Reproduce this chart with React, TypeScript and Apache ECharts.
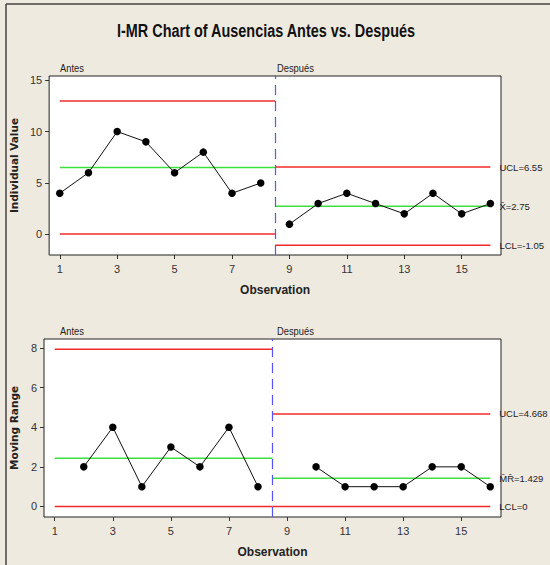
import React, { useEffect, useRef } from "react";
import * as echarts from "echarts";

// ---- Data ----
const antesObs = [1, 2, 3, 4, 5, 6, 7, 8];
const despuesObs = [9, 10, 11, 12, 13, 14, 15, 16];
const antesValues = [4, 6, 10, 9, 6, 8, 4, 5];
const despuesValues = [1, 3, 4, 3, 2, 4, 2, 3];

const antesMRObs = [2, 3, 4, 5, 6, 7, 8];
const despuesMRObs = [10, 11, 12, 13, 14, 15, 16];
const antesMR = [2, 4, 1, 3, 2, 4, 1];
const despuesMR = [2, 1, 1, 1, 2, 2, 1];

// control limits [UCL, CL, LCL]
const antesILimits = [12.96, 6.5, 0.04];
const despuesILimits = [6.55, 2.75, -1.05];
const antesMRLimits = [7.934, 2.429, 0];
const despuesMRLimits = [4.668, 1.429, 0];

const despuesILabels = ["UCL=6.55", "X\u0304=2.75", "LCL=-1.05"];
const despuesMRLabels = ["UCL=4.668", "M\u0304R\u0304=1.429", "LCL=0"];

const xTicks = [1, 3, 5, 7, 9, 11, 13, 15];
const yTicksI = [0, 5, 10, 15];
const yTicksMR = [0, 2, 4, 6, 8];

const stageBoundary = 8.5;
const firstObs = 1;
const lastObs = 16;

const SANS = '"Liberation Sans", Arial, sans-serif';

const RED = "#f22a2a";
const GREEN = "#3ce03c";
const BLUE = "#5555ff";

export default function App() {
  const ref = useRef<HTMLDivElement>(null);

  useEffect(() => {
    if (!ref.current) return;
    const chart = echarts.init(ref.current, null, { renderer: "svg" });

    const limitColors = [RED, GREEN, RED];

    const limitSeries = (
      idx: number,
      antes: number[],
      despues: number[],
      labels: string[]
    ) => {
      const out: any[] = [];
      antes.forEach((v, i) => {
        out.push({
          type: "line",
          xAxisIndex: idx,
          yAxisIndex: idx,
          data: [
            [firstObs, v],
            [stageBoundary, v],
          ],
          symbol: "none",
          silent: true,
          lineStyle: { color: limitColors[i], width: 1.5 },
          z: 1,
        });
      });
      despues.forEach((v, i) => {
        out.push({
          type: "line",
          xAxisIndex: idx,
          yAxisIndex: idx,
          data: [
            [stageBoundary, v],
            [lastObs, v],
          ],
          symbol: "none",
          silent: true,
          lineStyle: { color: limitColors[i], width: 1.5 },
          z: 1,
          endLabel: {
            show: true,
            formatter: () => labels[i],
            distance: 9,
            fontFamily: SANS,
            fontSize: 9.5,
            color: "#222",
          },
        });
      });
      return out;
    };

    const dataSeries = (idx: number, xs: number[], ys: number[], withBoundary: boolean) => ({
      type: "line",
      xAxisIndex: idx,
      yAxisIndex: idx,
      data: xs.map((x, i) => [x, ys[i]]),
      symbol: "circle",
      symbolSize: 7.5,
      itemStyle: { color: "#000" },
      lineStyle: { color: "#111", width: 1 },
      z: 5,
      markLine: withBoundary
        ? {
            silent: true,
            symbol: "none",
            label: { show: false },
            lineStyle: { color: BLUE, type: [10, 6], width: 1.2 },
            data: [{ xAxis: stageBoundary }],
          }
        : undefined,
    });

    const xAxisBase = (gi: number) => ({
      type: "value",
      gridIndex: gi,
      min: 0.63,
      max: 16.37,
      axisLine: { show: false, onZero: false },
      splitLine: { show: false },
      axisTick: {
        show: true,
        customValues: xTicks,
        length: 4,
        inside: false,
        lineStyle: { color: "#333" },
      },
      axisLabel: {
        customValues: xTicks,
        fontFamily: SANS,
        fontSize: 11,
        color: "#333",
        margin: 8,
      },
      name: "Observation",
      nameLocation: "middle",
      nameGap: 29,
      nameTextStyle: {
        fontFamily: SANS,
        fontWeight: "bold",
        fontSize: 12,
        color: "#222",
      },
    });

    const yAxisBase = (gi: number, min: number, max: number, ticks: number[], name: string) => ({
      type: "value",
      gridIndex: gi,
      min,
      max,
      axisLine: { show: false, onZero: false },
      splitLine: { show: false },
      axisTick: {
        show: true,
        customValues: ticks,
        length: 4,
        lineStyle: { color: "#333" },
      },
      axisLabel: {
        customValues: ticks,
        fontFamily: SANS,
        fontSize: 11,
        color: "#333",
        margin: 7,
      },
      name,
      nameLocation: "middle",
      nameRotate: 90,
      nameGap: 22,
      nameTextStyle: {
        fontFamily: '"DejaVu Sans", sans-serif',
        fontWeight: "bold",
        fontSize: 10.5,
        color: "#222",
      },
    });

    const stageText = (x: number, y: number, t: string) => ({
      type: "text",
      x,
      y,
      scaleX: 0.85,
      style: {
        text: t,
        fontFamily: SANS,
        fontSize: 11,
        fill: "#222",
        textVerticalAlign: "middle",
      },
    });

    chart.setOption({
      animation: false,
      backgroundColor: "#efeae0",
      grid: [
        { left: 44, top: 76, width: 457, height: 179, show: true, backgroundColor: "#fff", borderColor: "#222", borderWidth: 1 },
        { left: 44, top: 339, width: 457, height: 178, show: true, backgroundColor: "#fff", borderColor: "#222", borderWidth: 1 },
      ],
      xAxis: [xAxisBase(0), xAxisBase(1)],
      yAxis: [
        yAxisBase(0, -2, 15.4, yTicksI, "Individual Value"),
        yAxisBase(1, -0.53, 8.45, yTicksMR, "Moving Range"),
      ],
      graphic: [
        { type: "line", shape: { x1: 6, y1: 4, x2: 550, y2: 4 }, style: { stroke: "#444", lineWidth: 1.5 } },
        { type: "line", shape: { x1: 6, y1: 4, x2: 6, y2: 565 }, style: { stroke: "#444", lineWidth: 1.5 } },
        {
          type: "text",
          x: 266,
          y: 31,
          scaleX: 0.76,
          style: {
            text: "I-MR Chart of Ausencias Antes vs. Después",
            fontFamily: SANS,
            fontWeight: "bold",
            fontSize: 19,
            fill: "#111",
            textAlign: "center",
            textVerticalAlign: "middle",
          },
        },
        stageText(60, 68, "Antes"),
        stageText(277, 68, "Después"),
        stageText(60, 331, "Antes"),
        stageText(277, 331, "Después"),
      ],
      series: [
        ...limitSeries(0, antesILimits, despuesILimits, despuesILabels),
        ...limitSeries(1, antesMRLimits, despuesMRLimits, despuesMRLabels),
        dataSeries(0, antesObs, antesValues, true),
        dataSeries(0, despuesObs, despuesValues, false),
        dataSeries(1, antesMRObs, antesMR, true),
        dataSeries(1, despuesMRObs, despuesMR, false),
      ],
    });

    return () => chart.dispose();
  }, []);

  return (
    <div
      ref={ref}
      style={{ position: "fixed", left: 0, top: 0, width: 550, height: 565 }}
    />
  );
}
